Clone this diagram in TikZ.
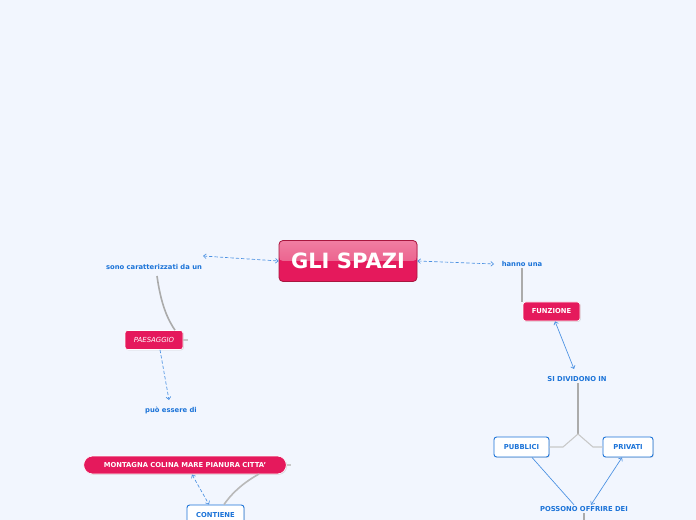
\documentclass[tikz,border=0pt]{standalone}
\usepackage{fontspec}
\setsansfont{DejaVu Sans}
\usepackage{xcolor}
\usetikzlibrary{arrows.meta,positioning,shadows}

\definecolor{bgblue}{HTML}{F2F6FE}
\definecolor{mappink}{HTML}{E5195C}
\definecolor{mappinklt}{HTML}{F07EA2}
\definecolor{mappinkmid}{HTML}{E84A7C}
\definecolor{pinkedge}{HTML}{A8173F}
\definecolor{mapblue}{HTML}{1B73D8}
\definecolor{linkblue}{HTML}{4A90E2}
\definecolor{branchgray}{HTML}{ABABAB}
\definecolor{forkgray}{HTML}{C8C8C8}

\begin{document}
\begin{tikzpicture}[x=0.75pt, y=-0.75pt,
  central/.style={draw=pinkedge, line width=0.6pt, fill=mappink, rounded corners=3pt,
    text=white, font=\sffamily\bfseries\fontsize{15.8}{18}\selectfont,
    minimum width=103.5pt, minimum height=30.75pt, inner sep=0pt,
    path picture={\fill[top color=mappinklt, bottom color=mappinkmid]
      (path picture bounding box.north west) rectangle (path picture bounding box.east);}},
  topic/.style={draw=white, line width=0.5pt, fill=mappink, rounded corners=2pt,
    text=white, font=\sffamily\bfseries\fontsize{5.1}{6}\selectfont,
    minimum height=14.25pt, inner xsep=4pt, inner ysep=0pt,
    drop shadow={opacity=0.25, shadow xshift=0.6pt, shadow yshift=-0.6pt}},
  subtopic/.style={draw=mapblue, line width=0.7pt, fill=white, rounded corners=2pt,
    text=mapblue, font=\sffamily\bfseries\fontsize{5.1}{6}\selectfont,
    minimum height=15pt, inner ysep=0pt,
    drop shadow={opacity=0.2, shadow xshift=0.6pt, shadow yshift=-0.6pt}},
  linktext/.style={text=mapblue, font=\sffamily\bfseries\fontsize{5.1}{6}\selectfont, inner sep=1pt},
  dashlink/.style={draw=linkblue, line width=0.5pt, dash pattern=on 2.5pt off 1.5pt},
  solidlink/.style={draw=linkblue, line width=0.5pt},
  branch/.style={draw=branchgray, line width=1.2pt},
  stub/.style={draw=forkgray, line width=0.8pt},
  tip/.tip={Straight Barb[length=2pt, width=3.5pt]},
]

% background and margins
\fill[bgblue] (0,0) rectangle (696,520);
\useasboundingbox (0,0) rectangle (696,520);

% centre
\node[central] (spazi) at (348,261) {GLI SPAZI};

% left branch
\node[linktext] (sono) at (154,267) {sono caratterizzati da un};
\coordinate (sonotip) at (203,256);
\node[topic, font=\sffamily\itshape\fontsize{5.2}{6}\selectfont, minimum width=43.5pt] (paesaggio) at (154,340) {PAESAGGIO};
\coordinate (paesaggioend) at (169,400);
\node[linktext] (essere) at (171,410) {può essere di};
\node[topic, rounded corners=6.75pt, minimum width=152pt, minimum height=13.5pt] (luoghi) at (185,465) {MONTAGNA COLINA MARE PIANURA CITTA'};
\node[subtopic, minimum width=42.75pt] (contiene) at (215.5,515) {CONTIENE};

% right branch
\node[linktext] (hanno) at (522,264) {hanno una};
\coordinate (hannotip) at (494,264);
\node[topic, minimum width=42.75pt] (funzione) at (551.5,311.5) {FUNZIONE};
\node[linktext] (dividono) at (577,379) {SI DIVIDONO IN};
\coordinate (fork) at (578,434);
\node[subtopic, minimum width=41.25pt] (pubblici) at (521.5,447) {PUBBLICI};
\node[subtopic, minimum width=37.5pt] (privati) at (628,447) {PRIVATI};
\node[linktext] (offrire) at (584,509) {POSSONO OFFRIRE DEI};

% links
\draw[dashlink, {tip}-{tip}] (sonotip) -- (spazi.west);
\draw[dashlink, {tip}-{tip}] (spazi.east) -- (hannotip);
\draw[branch] (157,276) .. controls (161,305) and (168,320) .. (paesaggio.north -| 175,0);
\draw[stub] (paesaggio.east) -- ++(5,0);
\draw[dashlink, -{tip}] (paesaggio.south -| 160,0) -- (paesaggioend);
\draw[stub] (luoghi.east) -- ++(4,0);
\draw[dashlink, {tip}-{tip}] (192,474.5) -- (contiene.north -| 209,0);
\draw[branch, draw=forkgray!80!gray] (contiene.north -| 224,0) .. controls (234,490) and (248,480) .. (259,474);
\draw[branch] (hanno.south -| 522,0) -- (funzione.north west -| 522,0);
\draw[solidlink, {tip}-{tip}] (funzione.south -| 555,0) -- (574,369);
\draw[branch, line width=2.2pt] (dividono.south -| fork) -- (fork);
\draw[stub] (fork) -- (563,447) -- (pubblici.east);
\draw[stub] (fork) -- (593,447) -- (privati.west);
\draw[solidlink] (pubblici.south -| 532,0) -- (offrire.north -| 574,0);
\draw[solidlink, {tip}-{tip}] (privati.south -| 622,0) -- (offrire.north -| 591,0);
\draw[branch] (offrire.south -| 584,0) -- (584,520);

\end{tikzpicture}
\end{document}
